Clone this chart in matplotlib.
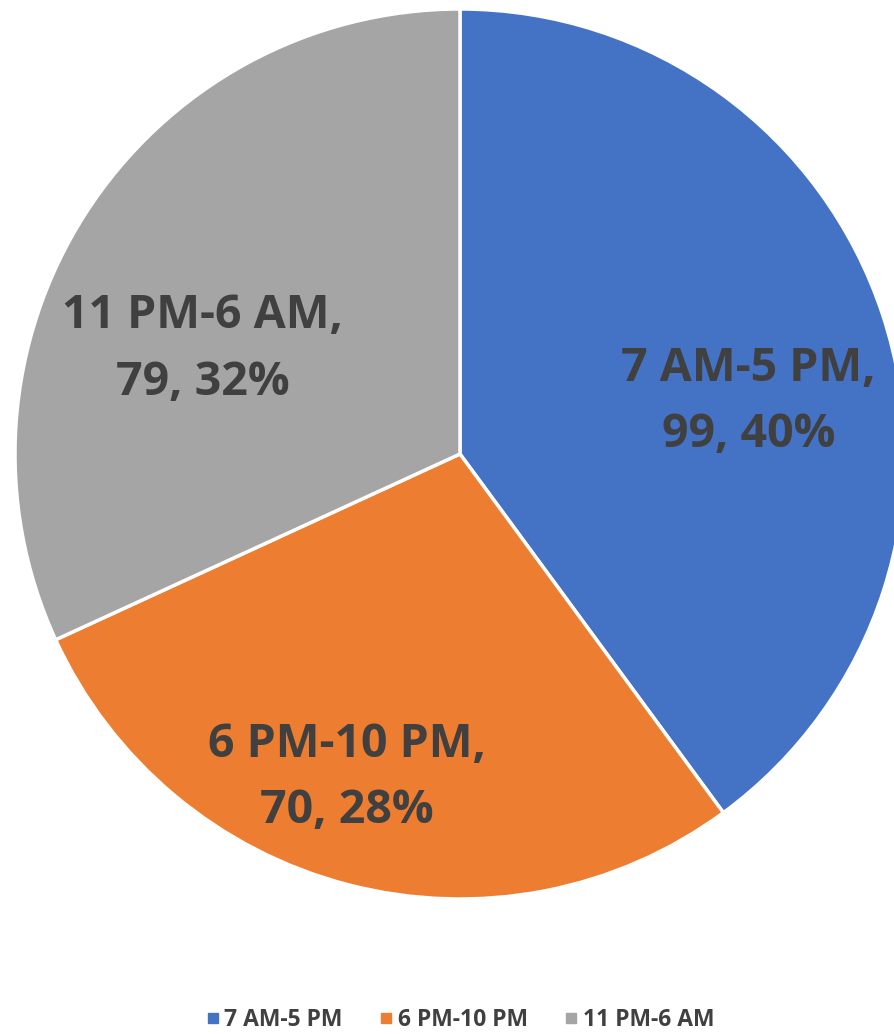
import matplotlib
matplotlib.use("Agg")
import matplotlib.pyplot as plt
from matplotlib.lines import Line2D

categories = ["7 AM-5 PM", "6 PM-10 PM", "11 PM-6 AM"]
values = [99, 70, 79]
percents = ["40%", "28%", "32%"]
colors = ["#4472C4", "#ED7D31", "#A5A5A5"]
label_pos = [(0.648, 0.118), (-0.255, -0.727), (-0.578, 0.236)]

W, H = 894, 1034
fig = plt.figure(figsize=(W / 100, H / 100), dpi=100)
cx, cy, r = 460, 454, 445
ax = fig.add_axes([(cx - r) / W, (H - cy - r) / H, 2 * r / W, 2 * r / H])
ax.pie(values, colors=colors, startangle=90, counterclock=False, radius=1,
       wedgeprops=dict(edgecolor="white", linewidth=2.5))
ax.set_xlim(-1, 1)
ax.set_ylim(-1, 1)
ax.set_aspect("auto")
ax.axis("off")

font = "Open Sans"
for cat, v, p, (x, y) in zip(categories, values, percents, label_pos):
    ax.text(x, y, f"{cat},\n{v}, {p}", ha="center", va="center",
            fontsize=33.5, fontweight="bold", color="#404040", family=font,
            linespacing=1.53)

handles = [Line2D([0], [0], marker="s", linestyle="none", markersize=7.2,
                  markerfacecolor=c, markeredgecolor=c) for c in colors]
fig.legend(handles, categories, loc="center", bbox_to_anchor=(459 / W, 1 - 1020 / H),
           ncol=3, frameon=False, handletextpad=0.1, columnspacing=1.5,
           handlelength=0.8, prop=dict(family=font, weight="bold", size=16.5),
           labelcolor="#404040")
fig.savefig("out.png", dpi=100)
